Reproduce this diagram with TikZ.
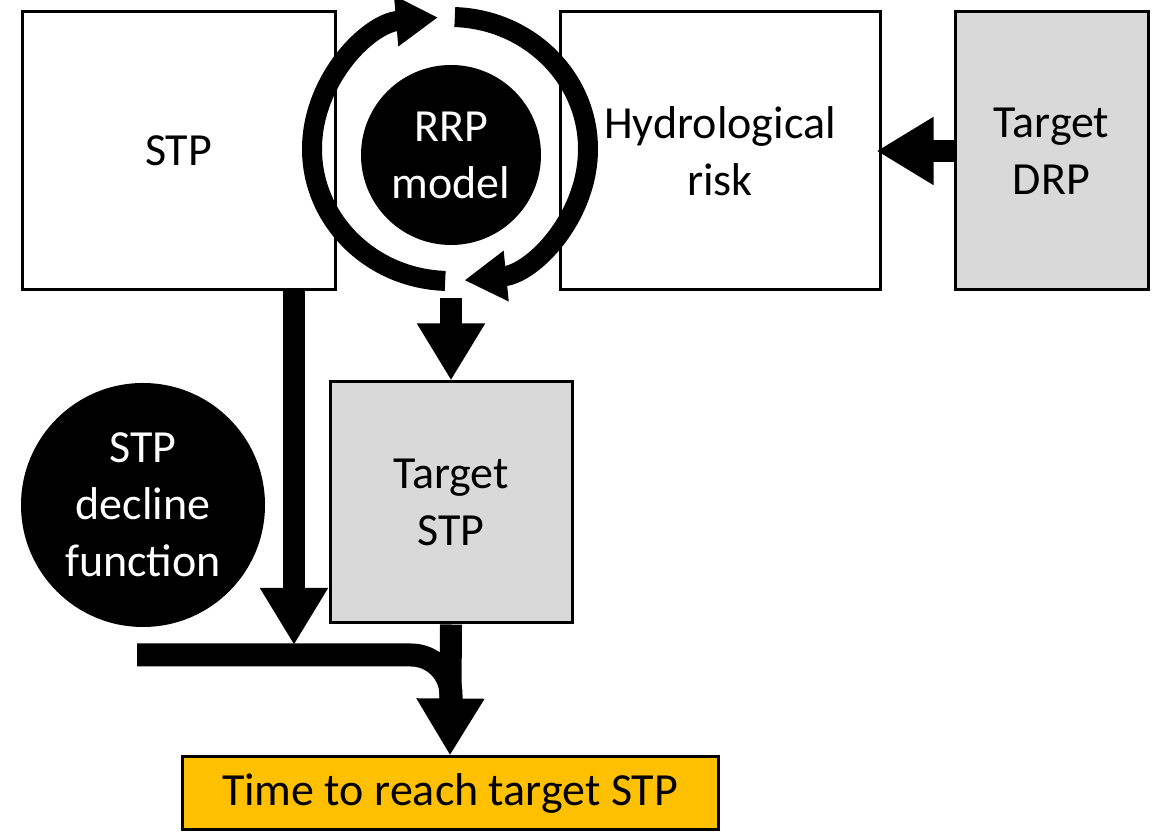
\documentclass[tikz,border=0pt]{standalone}
\usepackage{fontspec}
\setmainfont{Carlito}
\usetikzlibrary{arrows.meta,calc}
\definecolor{boxgray}{HTML}{D9D9D9}
\definecolor{tyellow}{HTML}{FFC000}
\begin{document}
\begin{tikzpicture}[x=1pt,y=1pt,
  box/.style={draw=black,line width=3pt,inner sep=0pt,align=center,
    font=\fontsize{46}{57}\selectfont},
  blob/.style={circle,fill=black,text=white,inner sep=0pt,align=center,
    font=\fontsize{46}{57}\selectfont},
  bigarrow/.style={line width=22pt,-{Triangle[length=57pt,width=64pt]}},
  ringarrow/.style={line width=20pt,-{Triangle[length=42pt,width=48pt]}}]
\useasboundingbox (0,0) rectangle (1161,837);
% boxes
\node[box,minimum width=313pt,minimum height=278pt] (stp) at (178.5,686) {STP};
\node[box,minimum width=320pt,minimum height=278pt] (hyd) at (720,686) {Hydrological\\risk};
\node[box,fill=boxgray,minimum width=193pt,minimum height=278pt] (drp) at (1051.5,686) {Target\\DRP};
\node[box,fill=boxgray,minimum width=242pt,minimum height=241pt] (tstp) at (451,334.5) {Target\\STP};
\node[box,fill=tyellow,minimum width=536pt,minimum height=73pt] (time) at (450,43.5) {Time to reach target STP};
% circles
\node[blob,minimum size=244pt] (decl) at (143,332) {STP\\decline\\function};
% ring arrows
\coordinate (ring) at (450,688);
\draw[ringarrow] ($(ring)+(268:138 and 132)$) arc[start angle=268,end angle=95,x radius=138,y radius=132];
\draw[ringarrow] ($(ring)+(88:138 and 132)$) arc[start angle=88,end angle=-84,x radius=138,y radius=132];
\node[blob,minimum size=180pt] (rrp) at (451,682) {RRP\\model};
% connectors
\coordinate (j1) at (294,192);
\coordinate (rb) at (451,539);
\coordinate (barL) at (137,182);
\coordinate (barC) at (451,182);
\coordinate (barE) at (451,122);
\draw[line width=23pt,rounded corners=40pt] (barL) -- (barC) -- (barE);
\draw[bigarrow] (stp.south -| j1) -- (j1);
\draw[bigarrow] (rb) -- (tstp.north);
\draw[bigarrow] (tstp.south) -- (time.north);
\draw[bigarrow,shorten >=-5pt] (drp.west) -- (hyd.east);
\end{tikzpicture}
\end{document}
